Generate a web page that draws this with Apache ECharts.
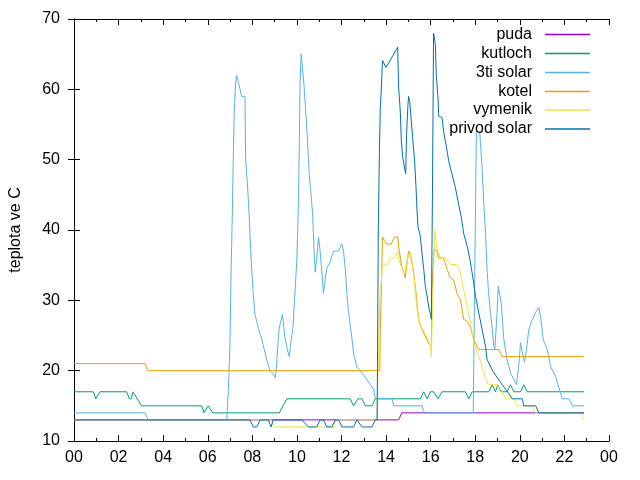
<!DOCTYPE html>
<html>
<head>
<meta charset="utf-8">
<script src="https://cdn.jsdelivr.net/npm/echarts@6/dist/echarts.min.js"></script>
<style>html,body{margin:0;padding:0;background:#fff}#c{width:640px;height:480px}</style>
</head>
<body>
<div id="c"></div>
<script>
// ---- data (hour of day, temperature °C) ----
const seriesNames = ['puda', 'kutloch', '3ti solar', 'kotel', 'vymenik', 'privod solar'];
const xTickLabels = ['00','02','04','06','08','10','12','14','16','18','20','22','00'];
const yTicks = [10, 20, 30, 40, 50, 60, 70];

const puda = [[0,13],[14.56,13],[14.71,14],[22.88,14]];

const kutloch = [[0,17],[0.86,17],[0.98,16],[1.16,17],[2.36,17],[2.48,16],[2.57,16],[2.65,17],[3.03,15],
  [5.73,15],[5.83,14],[6.02,15],[6.22,14],[9.21,14],[9.55,16],[12.39,16],[12.54,15],[12.74,16],[12.92,16],
  [13.07,15],[13.37,15],[13.51,16],[15.54,16],[15.69,17],[15.84,16],[15.99,17],[16.13,17],[16.33,16],[16.51,17],
  [17.56,17],[17.71,16],[17.86,17],[18.61,17],[18.76,18],[18.91,17],[19.01,18],[19.16,17],[19.43,17],[19.58,18],
  [19.73,17],[20.03,17],[20.18,18],[20.33,17],[22.88,17]];

const solar3 = [[0,14],[3.18,14],[3.33,13],[6.85,13],[6.92,17],[7.00,24],[7.04,33],[7.10,42],[7.15,51],[7.19,57],
  [7.25,61],[7.30,62],[7.37,61],[7.45,60],[7.52,59],[7.67,59],[7.70,50],[7.79,46],[7.85,42.5],[7.90,39],[7.94,36],
  [8.00,33],[8.04,31],[8.12,28],[8.20,27],[8.27,26],[8.42,24.5],[8.65,21.5],[8.80,20],[8.94,19.5],[9.02,19],
  [9.07,20],[9.12,22.5],[9.20,26],[9.35,28],[9.47,24.5],[9.57,23],[9.66,22],[9.73,24],[9.82,26],[9.92,31.5],
  [10.00,36],[10.07,44],[10.11,53],[10.14,61],[10.19,65],[10.25,63],[10.32,60.5],[10.40,56.5],[10.47,53],[10.55,48],
  [10.62,45.5],[10.70,42.5],[10.77,37],[10.82,34],[10.89,36],[10.97,39],[11.04,37],[11.12,34],[11.19,31],[11.27,33],
  [11.34,34.5],[11.49,35.5],[11.64,37],[11.87,37],[12.02,38],[12.09,37],[12.17,34.5],[12.24,31],[12.31,28.5],
  [12.39,26.5],[12.47,24.5],[12.54,22.5],[12.69,20.5],[12.84,20],[13.14,18.7],[13.29,18],[13.44,17.3],[13.51,16.3],
  [13.59,16],[14.27,16],[14.34,15],[15.61,15],[15.72,14],[17.91,14],[18.00,40],[18.05,54],[18.20,54],[18.31,48.6],
  [18.38,44],[18.46,39.6],[18.53,34.4],[18.60,31],[18.68,28.3],[18.76,26],[18.83,23.5],[18.88,23],[18.98,28.3],
  [19.03,32],[19.06,32],[19.16,29.7],[19.24,26.3],[19.28,24.5],[19.43,21.5],[19.58,19.7],[19.85,18],[19.96,21],
  [20.03,24],[20.11,22.6],[20.21,21.2],[20.30,23],[20.40,25.8],[20.56,27.3],[20.71,28.3],[20.85,29],[20.93,27.7],
  [21.05,24.4],[21.23,23],[21.38,20.6],[21.60,19.2],[21.83,16.8],[21.91,16],[22.20,16],[22.36,15],[22.88,15]];

const kotel = [[0,21],[3.17,21],[3.33,20],[13.72,20],[13.74,26],[13.82,36],[13.84,39],[13.93,38.5],[14.04,38],
  [14.23,38],[14.38,39],[14.52,39],[14.56,37.7],[14.64,36],[14.71,34.8],[14.79,34.1],[14.86,33.2],[14.94,35.3],
  [15.01,37],[15.09,36.7],[15.16,35.5],[15.24,33.9],[15.31,32],[15.39,29.6],[15.46,27.3],[15.61,25.8],[15.76,24.9],
  [15.91,23.9],[16.03,23.5],[16.06,31.5],[16.15,37.2],[16.28,37],[16.36,36],[16.58,36],[16.74,34.4],[16.88,33.2],
  [17.03,32.9],[17.18,31],[17.33,30.1],[17.41,28.7],[17.48,27.3],[17.64,27],[17.79,26.1],[17.93,24.4],[18.16,23],
  [19.06,23],[19.21,22],[22.88,22]];

const vymenik = [[0,13],[8.84,13],[8.99,12],[11.66,12],[11.75,13],[13.58,13],[13.72,30],[13.84,35],[14.04,35],
  [14.19,36],[14.38,36],[14.52,37],[14.56,35.8],[14.71,34.6],[14.83,33.9],[14.89,34],[14.99,36.3],[15.06,36.7],
  [15.16,35.3],[15.28,32.5],[15.36,29.6],[15.43,27.7],[15.54,26.3],[15.69,25.6],[15.84,24.7],[15.99,23.5],
  [16.03,22],[16.09,30],[16.18,40],[16.29,37.2],[16.44,36],[16.66,36],[16.88,35.1],[17.18,35.1],[17.33,33.9],
  [17.48,31.5],[17.64,29.1],[17.79,26.8],[17.93,24],[18.16,22],[18.31,20.5],[18.46,19],[18.60,18],[18.99,18],
  [19.21,17],[19.36,16],[19.73,16],[19.88,15],[20.56,15],[20.71,14],[22.73,14],[22.88,13]];

const privodSolar = [[0,13],[7.90,13],[8.04,12],[8.20,12],[8.35,13],[8.72,13],[8.84,12],[8.94,13],[10.22,13],
  [10.52,12],[10.89,12],[11.04,13],[11.19,13],[11.34,12],[11.57,12],[11.72,13],[11.87,13],[12.02,12],[12.54,12],
  [12.69,13],[12.76,13],[12.92,12],[13.37,12],[13.51,13],[13.60,13],[13.65,40],[13.70,51],[13.74,57.4],[13.79,60.3],
  [13.84,64.1],[14.00,63.1],[14.52,66],[14.56,60.4],[14.64,56.7],[14.68,52.9],[14.74,50.5],[14.83,48.8],[14.88,48],
  [14.92,53.6],[14.98,57.8],[15.01,59],[15.06,58.3],[15.12,55.9],[15.19,53.1],[15.28,49.8],[15.34,46.2],[15.39,42.7],
  [15.43,40.5],[15.54,39],[15.61,36.7],[15.69,34.4],[15.76,32],[15.84,30.6],[15.91,29.1],[15.99,28],[16.03,27.3],
  [16.08,45],[16.13,68],[16.21,66.4],[16.25,62.1],[16.33,58.8],[16.36,56.2],[16.51,56],[16.58,54],[16.69,52.1],
  [16.81,49.8],[16.96,47.9],[17.11,46],[17.26,43.6],[17.38,41.7],[17.48,39.5],[17.64,37.7],[17.79,35.3],[17.91,32.9],
  [18.01,30.6],[18.16,28.2],[18.31,25.8],[18.46,23.5],[18.53,21.6],[18.76,20.1],[18.99,19],[19.21,18],[19.43,17.1],
  [19.66,16],[20.11,16],[20.18,15],[20.71,15],[20.85,14],[22.88,14]];

const seriesData = [puda, kutloch, solar3, kotel, vymenik, privodSolar];
const colors = ['#9400d3', '#009e73', '#56b4e9', '#e69f00', '#f0e442', '#0072b2'];

// ---- chart ----
const FONT = 'Liberation Sans, Arial, sans-serif';
const chart = echarts.init(document.getElementById('c'), null, {renderer: 'canvas'});
const legendTops = [26.5, 45.5, 64.5, 83.5, 102, 121];

const xBase = {
  type: 'value', min: 0, max: 24, interval: 2,
  axisLine: {show: true, lineStyle: {color: '#000', width: 1}},
  axisTick: {show: true, inside: true, length: 6, lineStyle: {color: '#000'}},
  minorTick: {show: true, splitNumber: 2, length: 3, lineStyle: {color: '#000'}},
  splitLine: {show: false}, minorSplitLine: {show: false}
};
const yBase = {
  type: 'value', min: yTicks[0], max: yTicks[yTicks.length - 1], interval: 10,
  axisLine: {show: true, lineStyle: {color: '#000', width: 1}},
  axisTick: {show: true, inside: true, length: 6, lineStyle: {color: '#000'}},
  splitLine: {show: false}
};

chart.setOption({
  animation: false,
  backgroundColor: '#fff',
  grid: {left: 74, right: 31, top: 19, bottom: 39, containLabel: false},
  xAxis: [
    Object.assign({}, xBase, {position: 'bottom',
      axisLabel: {show: true, margin: 9, color: '#000', fontSize: 16, fontFamily: FONT,
        formatter: v => xTickLabels[Math.round(v / 2)]}}),
    Object.assign({}, xBase, {position: 'top', axisLabel: {show: false}})
  ],
  yAxis: [
    Object.assign({}, yBase, {position: 'left', name: 'teplota ve C', nameLocation: 'middle', nameGap: 50,
      nameRotate: 90, nameTextStyle: {color: '#000', fontSize: 16, fontFamily: FONT},
      axisLabel: {show: true, margin: 14, color: '#000', fontSize: 16, fontFamily: FONT}}),
    Object.assign({}, yBase, {position: 'right', axisLabel: {show: false}})
  ],
  legend: seriesNames.map((n, i) => ({
    data: [{name: n, icon: 'rect', itemStyle: {color: colors[i]}}],
    right: 50, top: legendTops[i], orient: 'vertical', align: 'right',
    itemWidth: 45, itemHeight: 1.5, padding: 0, selectedMode: false,
    textStyle: {color: '#000', fontSize: 16, fontFamily: FONT, padding: [0, 8, 0, 0]}
  })),
  series: seriesNames.map((n, i) => ({
    name: n, type: 'line', data: seriesData[i], xAxisIndex: 0, yAxisIndex: 0,
    symbol: 'none', showSymbol: false, color: colors[i],
    lineStyle: {color: colors[i], width: 1}, emphasis: {disabled: true}
  }))
});
</script>
</body>
</html>
